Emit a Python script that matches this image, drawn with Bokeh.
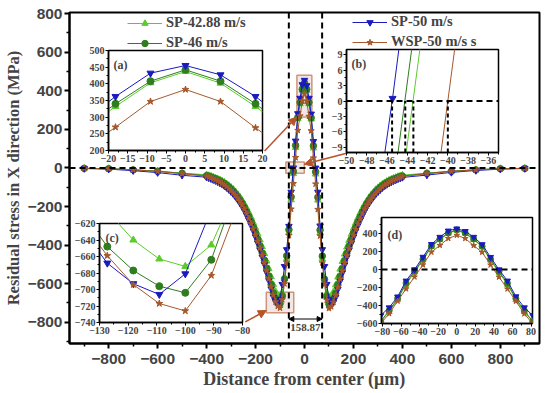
from bokeh.plotting import figure
from bokeh.models import (Range1d, Legend, LegendItem, Span, Arrow, NormalHead, Label,
                          GridBox, FixedTicker, CustomJSTickFormatter)
from bokeh.embed import file_html
from bokeh.resources import INLINE

# ---------------- data ----------------
node_step = 100 / 11
dense_x = [round(k * node_step, 3) for k in range(-44, 45)]
far_left_x = [-900, -800, -700, -600, -500]
far_right_x = [500, 600, 700, 800, 900]

sp4288_far_left = [-2, -3, -9, -16, -27]
sp4288_left = [-35, -39, -42, -47, -51, -56, -61, -67, -74, -82, -90, -100, -110, -123, -136,
               -151, -168, -187, -208, -231, -256, -283, -311, -342, -374, -409, -445, -483, -523,
               -564, -605, -640, -663, -672, -646, -575, -470, -335, -165, -30, 105, 255, 332, 403, 437]
sp4288_right = [402, 332, 253, 103, -32, -167, -337, -472, -577, -648, -674, -665, -642, -607, -566,
                -525, -485, -447, -411, -376, -344, -313, -285, -258, -233, -210, -189, -170, -153,
                -138, -125, -112, -102, -92, -84, -76, -69, -63, -58, -53, -49, -44, -41, -37]
sp4288_far_right = [-27, -16, -9, -3, -2]

sp46_far_left = [-2, -4, -10, -17, -28]
sp46_left = [-40, -43, -47, -52, -56, -62, -67, -74, -81, -90, -99, -110, -121, -135, -149,
             -166, -184, -205, -227, -252, -278, -307, -337, -370, -404, -441, -479, -520, -561,
             -604, -648, -677, -696, -704, -664, -575, -455, -320, -150, -18, 117, 262, 340, 408, 442]
sp46_right = [408, 340, 260, 115, -20, -152, -322, -457, -577, -666, -706, -698, -679, -650, -606,
              -563, -522, -481, -443, -406, -372, -339, -309, -280, -254, -229, -207, -186, -168,
              -151, -137, -123, -112, -101, -92, -83, -76, -69, -64, -58, -54, -49, -45, -42]
sp46_far_right = [-28, -17, -10, -4, -2]

sp50_far_left = [-3, -6, -14, -24, -38]
sp50_left = [-48, -52, -56, -61, -66, -72, -78, -85, -93, -102, -112, -123, -135, -149, -164,
             -181, -200, -221, -244, -269, -296, -325, -356, -389, -424, -461, -500, -541, -583,
             -626, -668, -693, -706, -681, -603, -510, -423, -302, -125, 0.5, 140, 282, 362, 432, 455]
sp50_right = [427, 362, 280, 138, 0, -125, -300, -423, -510, -603, -683, -708, -695, -670, -628,
              -585, -543, -502, -463, -425, -390, -357, -326, -297, -270, -245, -222, -201, -182,
              -165, -150, -136, -124, -113, -103, -94, -86, -79, -73, -67, -62, -57, -53, -49]
sp50_far_right = [-37, -23, -13, -6, -3]

wsp50_far_left = [-2, -4, -10, -18, -30]
wsp50_left = [-43, -47, -51, -56, -61, -67, -73, -80, -87, -96, -106, -117, -129, -143, -158,
              -174, -193, -214, -237, -262, -289, -317, -348, -381, -416, -453, -491, -532, -574,
              -617, -659, -694, -717, -726, -683, -600, -490, -350, -213, -81, 54, 195, 270, 347, 383]
wsp50_right = [347, 268, 193, 52, -83, -215, -352, -492, -602, -685, -728, -719, -696, -661, -619,
               -576, -534, -493, -455, -418, -383, -350, -319, -291, -264, -239, -216, -195, -176,
               -160, -145, -131, -119, -108, -98, -89, -82, -75, -69, -63, -58, -53, -49, -45]
wsp50_far_right = [-30, -18, -10, -4, -2]

labels = ["SP-42.88 m/s", "SP-46 m/s", "SP-50 m/s", "WSP-50 m/s s"]
colors = ["#5ccc2c", "#2f7d1f", "#1a1ac0", "#a5582a"]
markers = ["triangle", "circle", "inverted_triangle", "star"]

all_x = far_left_x + dense_x + far_right_x
series_y = [
    sp4288_far_left + sp4288_left + sp4288_right + sp4288_far_right,
    sp46_far_left + sp46_left + sp46_right + sp46_far_right,
    sp50_far_left + sp50_left + sp50_right + sp50_far_right,
    wsp50_far_left + wsp50_left + wsp50_right + wsp50_far_right,
]

x_ticks = [-800, -600, -400, -200, 0, 200, 400, 600, 800]
x_minor = [-900, -700, -500, -300, -100, 100, 300, 500, 700, 900]
y_ticks = [-800, -600, -400, -200, 0, 200, 400, 600, 800]
y_minor = [-900, -700, -500, -300, -100, 100, 300, 500, 700]

guide_x = [-64, 72]          # vertical dashed guide lines
gap_label = "158.87"
zero_cross_x = [-45.5, -44.2, -43.4, -40.0]   # zero crossings shown in inset (b)

# highlighted zoom boxes (left, right, bottom, top)
box_left = [-31, -76, -156]
box_right = [30, -1, -44]
box_bottom = [264, -27, -751]
box_top = [481, 31, -644]

SERIF = "Liberation Serif"
SANS = "Liberation Sans"
BROWN = "#b5542b"

neg_fmt_code = "return tick < 0 ? '\u2212' + Math.abs(tick) : String(tick);"

W, H = 550, 393
p = figure(width=W, height=H, x_range=Range1d(-960, 960), y_range=Range1d(-910, 806),
           output_backend="svg", toolbar_location=None, title=None,
           min_border_left=65, min_border_right=11, min_border_top=12, min_border_bottom=50)
p.grid.visible = False
p.background_fill_color = "white"
p.border_fill_color = "white"
p.outline_line_color = "black"
p.outline_line_width = 2

for ax, tk, mn in [(p.xaxis[0], x_ticks, x_minor), (p.yaxis[0], y_ticks, y_minor)]:
    ax.ticker = FixedTicker(ticks=tk, minor_ticks=mn)
    ax.formatter = CustomJSTickFormatter(code=neg_fmt_code)
    ax.major_label_text_font = SANS
    ax.major_label_text_font_style = "bold"
    ax.major_label_text_font_size = "15.5px"
    ax.axis_label_text_font = SERIF
    ax.axis_label_text_font_style = "bold"
    ax.axis_line_width = 2
    ax.major_tick_line_width = 2
    ax.minor_tick_line_width = 1.5
    ax.major_tick_in = 0
    ax.major_tick_out = 5
    ax.minor_tick_in = 0
    ax.minor_tick_out = 3
    ax.axis_label_standoff = 2
p.xaxis.major_label_standoff = 5
p.yaxis.major_label_standoff = 2
p.xaxis.axis_label_text_font_size = "18px"
p.yaxis.axis_label_text_font_size = "16.5px"
p.xaxis.axis_label = "Distance from center (\u03bcm)"
p.yaxis.axis_label = "Residual stress in X direction (MPa)"

p.quad(left=box_left, right=box_right, bottom=box_bottom, top=box_top,
       fill_color="#e6d3d3", fill_alpha=0.55, line_color="#cf9478", line_width=1.5)

legend_renderers = []
for lab, ys, col, mk in zip(labels, series_y, colors, markers):
    rl = p.line(all_x, ys, line_color=col, line_width=1)
    rs = p.scatter(all_x, ys, marker=mk, size=6.5, fill_color=col, line_color=col)
    legend_renderers.append((lab, [rl, rs]))

p.add_layout(Span(location=0, dimension="width", line_color="black", line_width=2, line_dash="6 4"))
for gx in guide_x:
    p.add_layout(Span(location=gx, dimension="height", line_color="black", line_width=2, line_dash="6 4"))

p.add_layout(Arrow(start=NormalHead(size=5, fill_color="black"), end=NormalHead(size=5, fill_color="black"),
                   x_start=guide_x[0], x_end=guide_x[1], y_start=-783, y_end=-783, line_width=1))
p.add_layout(Label(x=(guide_x[0] + guide_x[1]) / 2, y=-810, text=gap_label, text_align="center",
                   text_baseline="top", text_font=SERIF, text_font_style="bold", text_font_size="11px"))

for xs, ys, xe, ye in [(-163, 88, -32, 264), (176, 78, -1, 19), (-242, -798, -156, -739)]:
    p.add_layout(Arrow(end=NormalHead(size=8, fill_color=BROWN, line_color=BROWN),
                       x_start=xs, y_start=ys, x_end=xe, y_end=ye, line_color=BROWN, line_width=1.5))

leg_kw = dict(border_line_color=None, background_fill_alpha=0, label_text_font=SERIF,
              label_text_font_style="bold", label_text_font_size="14.5px", glyph_width=35,
              glyph_height=16, label_height=16, spacing=3, padding=0, margin=0, label_standoff=4)
leg1 = Legend(items=[LegendItem(label=l, renderers=r) for l, r in legend_renderers[:2]],
              location=(58, 292), **leg_kw)
leg2 = Legend(items=[LegendItem(label=l, renderers=r) for l, r in legend_renderers[2:]],
              location=(283, 293), **leg_kw)
p.add_layout(leg1)
p.add_layout(leg2)

# ---------------- insets ----------------
BL, BR, BT, BB = 30, 10, 6, 18


def make_inset(tag, xr, yr, fw, fh, xt, xm, yt, ym, msize, tag_dx, tag_dy):
    f = figure(width=fw + BL + BR, height=fh + BT + BB, x_range=Range1d(*xr), y_range=Range1d(*yr),
               output_backend="svg", toolbar_location=None, title=None,
               min_border_left=BL, min_border_right=BR, min_border_top=BT, min_border_bottom=BB)
    f.grid.visible = False
    f.border_fill_color = None
    f.background_fill_color = "white"
    f.outline_line_color = "black"
    f.outline_line_width = 1.5
    for ax, tk, mn in [(f.xaxis[0], xt, xm), (f.yaxis[0], yt, ym)]:
        ax.ticker = FixedTicker(ticks=tk, minor_ticks=mn)
        ax.formatter = CustomJSTickFormatter(code=neg_fmt_code)
        ax.major_label_text_font = SERIF
        ax.major_label_text_font_style = "bold"
        ax.major_label_text_font_size = "10px"
        ax.axis_line_width = 1.5
        ax.major_tick_in = 0
        ax.major_tick_out = 3
        ax.minor_tick_in = 0
        ax.minor_tick_out = 2
        ax.major_label_standoff = 1
    for ys, col, mk in zip(series_y, colors, markers):
        f.line(all_x, ys, line_color=col, line_width=1)
        f.scatter(all_x, ys, marker=mk, size=msize, fill_color=col, line_color=col)
    f.add_layout(Label(x=tag_dx, y=fh - tag_dy, x_units="screen", y_units="screen", text=tag,
                       text_baseline="top", text_font=SERIF, text_font_style="bold",
                       text_font_size="12px"))
    return f


def steps(a, b, s):
    out = []
    v = a
    while v <= b + 1e-9:
        out.append(round(v, 6))
        v += s
    return out


fa = make_inset("(a)", (-20, 20), (200, 500), 154, 100,
                steps(-20, 20, 5), steps(-17.5, 17.5, 5), steps(200, 500, 50), steps(225, 475, 50), 7, 5, 7)
fb = make_inset("(b)", (-50, -35), (-10, 10), 152, 103,
                steps(-50, -36, 2), steps(-49, -35, 2), steps(-9, 9, 3), steps(-7.5, 7.5, 3), 7, 5, 7)
fb.add_layout(Span(location=0, dimension="width", line_color="black", line_width=2, line_dash="6 4"))
fb.segment(x0=zero_cross_x, y0=[-10] * len(zero_cross_x), x1=zero_cross_x, y1=[0] * len(zero_cross_x),
           line_color="black", line_width=2, line_dash="4 3")
fc = make_inset("(c)", (-130, -80), (-740, -620), 143, 99,
                steps(-130, -80, 10), steps(-125, -85, 10), steps(-740, -620, 20), steps(-730, -630, 20), 7, 6, 7)
fd = make_inset("(d)", (-81, 81.5), (-600, 580), 151, 106,
                steps(-80, 80, 20), steps(-70, 70, 20), steps(-600, 400, 200), steps(-500, 500, 200), 6, 6, 10)
fd.add_layout(Span(location=0, dimension="width", line_color="black", line_width=2, line_dash="6 4"))

# placement (x, y) of each figure's top-left corner on the page
placed = [(p, 0, 0), (fa, 78, 44), (fb, 316, 43), (fc, 69, 217), (fd, 351, 211)]
xb = sorted(set([x for _, x, _ in placed] + [x + f.width for f, x, _ in placed]))
yb = sorted(set([y for _, _, y in placed] + [y + f.height for f, _, y in placed]))
cols = [f"{b - a}px" for a, b in zip(xb[:-1], xb[1:])]
rows = [f"{b - a}px" for a, b in zip(yb[:-1], yb[1:])]
children = []
for f, x, y in placed:
    r0, c0 = yb.index(y), xb.index(x)
    r1, c1 = yb.index(y + f.height), xb.index(x + f.width)
    children.append((f, r0, c0, r1 - r0, c1 - c0))
root = GridBox(children=children, rows=rows, cols=cols, spacing=0)

open("out.html", "w").write(file_html(root, INLINE))
